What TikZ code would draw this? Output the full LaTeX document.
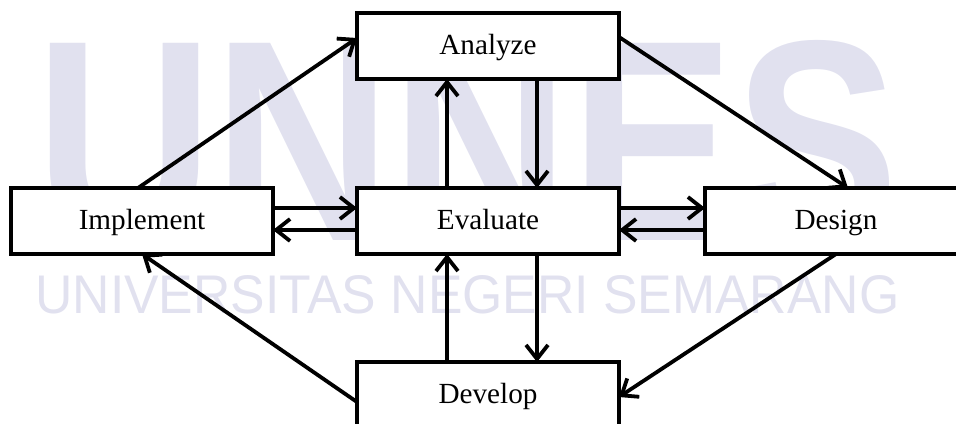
\documentclass[tikz,border=0pt]{standalone}
\usepackage{fontspec}
\setmainfont{Liberation Serif}
\newfontfamily\wmfont{Liberation Sans}
\usetikzlibrary{arrows.meta,calc}
\definecolor{wmcolor}{RGB}{225,225,239}
\tikzset{
  stage/.style={draw, line width=1.9pt, fill=white, inner sep=0pt, outer sep=0pt,
    minimum width=131pt, minimum height=33pt, text height=12pt, text depth=4pt,
    font=\fontsize{14.6pt}{17pt}\selectfont},
  flow/.style={line width=1.9pt, -{Straight Barb[length=7pt,width=11pt,line width=1.9pt]}},
}
\begin{document}
\begin{tikzpicture}[x=0.5pt, y=-0.5pt]
  \useasboundingbox (0,0) rectangle (956,423);
  % background lettering
  \node[wmcolor, anchor=north west, inner sep=0pt] (wm1) at (35,40)
    {\resizebox{432pt}{100pt}{\wmfont\bfseries UNNES}};
  \node[wmcolor, anchor=north west, inner sep=0pt] (wm2) at (35,275)
    {\resizebox{432pt}{19pt}{\wmfont UNIVERSITAS NEGERI SEMARANG}};
  % stages
  \node[stage] (A) at (488,46)  {Analyze};
  \node[stage] (I) at (142,221) {Implement};
  \node[stage] (E) at (488,221) {Evaluate};
  \node[stage] (D) at (836,221) {Design};
  \node[stage] (V) at (488,395) {Develop};
  % connectors
  \draw[flow] ($(I.north)+(-4,0)$) -- ($(A.west)+(0,-8)$);
  \draw[flow] ($(A.east)+(0,-9)$) -- ($(D.north)+(12,0)$);
  \draw[flow] (D.south) -- ($(V.east)+(0,2)$);
  \draw[flow] ($(V.west)+(0,7)$) -- (I.south);
  \draw[flow] ($(E.north)+(-41,0)$) -- ($(A.south)+(-41,0)$);
  \draw[flow] ($(A.south)+(49,0)$) -- ($(E.north)+(49,0)$);
  \draw[flow] ($(V.north)+(-41,0)$) -- ($(E.south)+(-41,0)$);
  \draw[flow] ($(E.south)+(49,0)$) -- ($(V.north)+(49,0)$);
  \draw[flow] ($(I.east)+(0,-13)$) -- ($(E.west)+(0,-13)$);
  \draw[flow] ($(E.west)+(0,9)$) -- ($(I.east)+(0,9)$);
  \draw[flow] ($(E.east)+(0,-13)$) -- ($(D.west)+(0,-13)$);
  \draw[flow] ($(D.west)+(0,9)$) -- ($(E.east)+(0,9)$);
\end{tikzpicture}
\end{document}
